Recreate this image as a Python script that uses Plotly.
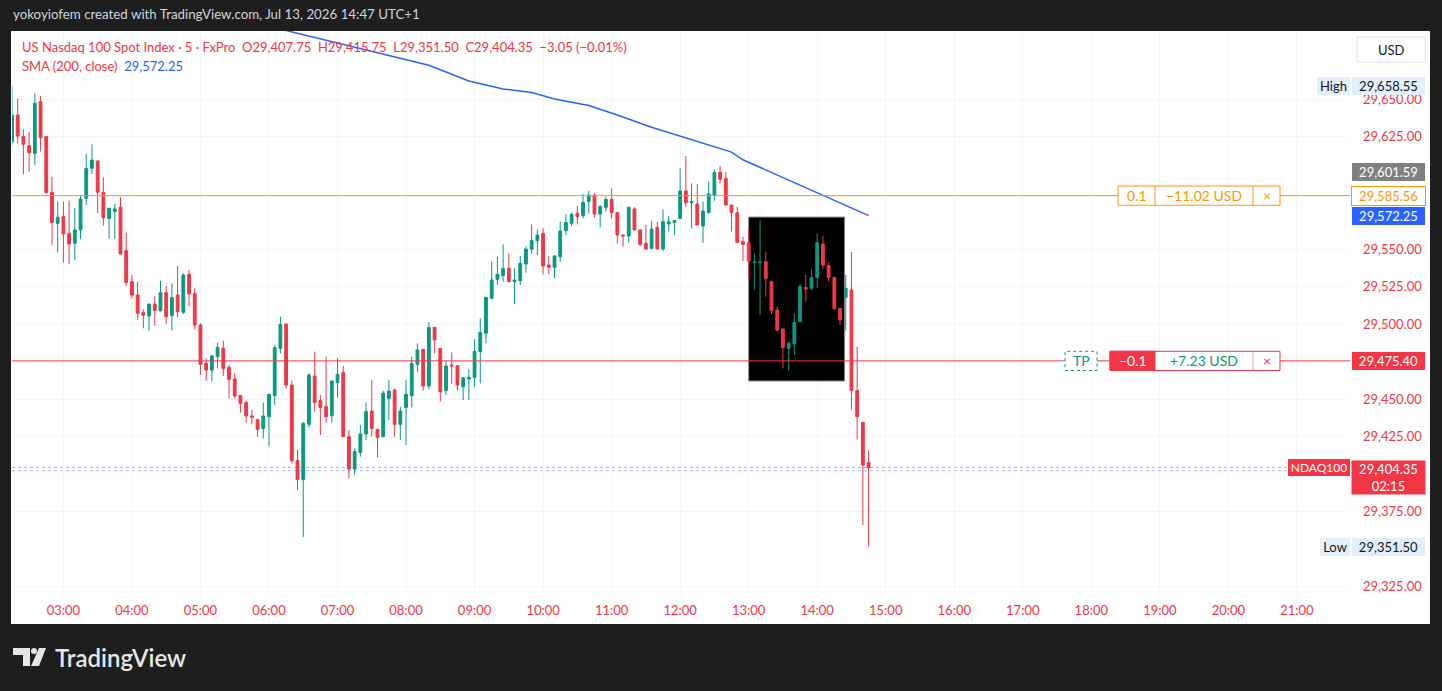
import pandas as pd
import plotly.graph_objects as go

# 5 min candles of US Nasdaq 100 (FxPro), 02:15 -> 14:45
opens = [29621.6, 29639.3, 29625.0, 29618.9, 29613.8, 29648.2, 29624.9, 29587.8, 29567.1, 29571.6,
         29560.4, 29553.8, 29562.7, 29583.8, 29603.8, 29608.7, 29587.8, 29570.4, 29574.9, 29577.8,
         29548.9, 29528.2, 29519.3, 29507.6, 29505.3, 29513.3, 29508.9, 29520.9, 29505.6, 29519.3,
         29507.8, 29533.1, 29520.4, 29499.3, 29473.8, 29469.3, 29478.2, 29483.8, 29471.1, 29463.3,
         29452.4, 29447.8, 29438.7, 29436.4, 29430.4, 29438.2, 29452.2, 29483.8, 29500.0, 29459.3,
         29408.9, 29396.4, 29433.1, 29465.3, 29448.9, 29444.9, 29438.9, 29460.9, 29467.6, 29424.9,
         29403.3, 29414.4, 29426.7, 29442.0, 29429.8, 29424.9, 29450.4, 29456.0, 29433.1, 29444.4,
         29452.2, 29473.1, 29483.1, 29458.7, 29497.8, 29483.8, 29455.6, 29472.7, 29472.2, 29458.2,
         29463.3, 29464.4, 29481.6, 29493.8, 29517.1, 29529.8, 29532.2, 29537.1, 29528.2, 29528.9,
         29540.0, 29549.8, 29555.6, 29560.4, 29539.3, 29537.8, 29544.9, 29562.2, 29567.1, 29573.8,
         29572.2, 29581.6, 29586.0, 29573.3, 29577.8, 29583.1, 29574.4, 29559.3, 29558.7, 29576.7,
         29562.7, 29553.8, 29550.4, 29564.4, 29550.0, 29566.7, 29567.6, 29570.4, 29588.7, 29580.9,
         29580.0, 29565.3, 29574.2, 29585.6, 29601.1, 29597.1, 29579.3, 29574.2, 29554.9, 29554.2,
         29541.0, 29541.0, 29541.6, 29528.2, 29509.3, 29496.7, 29483.8, 29486.7, 29501.6, 29524.4,
         29523.8, 29531.1, 29553.3, 29538.9, 29531.1, 29510.4, 29517.8, 29522.7, 29455.6, 29434.4,
         29407.75]
highs = [29658.55, 29650.4, 29629.8, 29628.2, 29653.8, 29652.0, 29625.2, 29598.2, 29581.6, 29581.6,
         29582.2, 29577.1, 29586.0, 29613.3, 29619.8, 29609.0, 29597.8, 29577.5, 29580.0, 29584.4,
         29560.9, 29532.7, 29528.2, 29509.8, 29513.5, 29518.5, 29528.9, 29525.3, 29527.1, 29538.7,
         29533.8, 29536.0, 29523.8, 29500.4, 29477.1, 29479.3, 29487.6, 29488.9, 29472.7, 29467.1,
         29452.6, 29448.9, 29442.7, 29436.6, 29447.6, 29453.3, 29485.8, 29504.9, 29500.2, 29462.2,
         29416.4, 29434.5, 29467.1, 29481.6, 29452.7, 29478.2, 29462.2, 29477.1, 29472.2, 29429.3,
         29417.1, 29432.7, 29447.8, 29462.7, 29430.0, 29455.6, 29462.7, 29456.9, 29444.9, 29462.7,
         29478.2, 29487.1, 29483.3, 29501.3, 29498.0, 29484.0, 29475.6, 29481.1, 29472.4, 29464.4,
         29470.0, 29489.8, 29503.8, 29518.0, 29541.6, 29544.9, 29553.1, 29547.1, 29537.1, 29545.3,
         29551.6, 29566.4, 29563.1, 29563.8, 29545.3, 29546.0, 29568.2, 29573.1, 29574.2, 29578.7,
         29586.7, 29588.9, 29587.1, 29579.3, 29584.9, 29590.4, 29574.6, 29559.5, 29578.0, 29577.8,
         29563.1, 29566.0, 29568.7, 29568.2, 29576.4, 29572.0, 29569.1, 29603.8, 29612.0, 29593.8,
         29593.3, 29581.6, 29594.9, 29603.1, 29605.3, 29601.1, 29579.5, 29578.2, 29558.2, 29563.8,
         29547.1, 29569.3, 29548.2, 29528.9, 29511.6, 29496.9, 29488.2, 29507.1, 29526.7, 29532.7,
         29536.7, 29560.4, 29558.7, 29541.1, 29531.3, 29510.6, 29532.7, 29548.2, 29484.9, 29434.6,
         29415.75]
lows = [29619.5, 29620.4, 29600.0, 29601.6, 29606.0, 29614.9, 29587.0, 29552.7, 29547.6, 29540.9,
        29540.0, 29542.7, 29556.5, 29579.3, 29600.0, 29573.8, 29565.6, 29556.9, 29556.9, 29546.5,
        29525.3, 29517.1, 29502.7, 29497.1, 29495.6, 29498.7, 29508.2, 29500.0, 29495.6, 29504.4,
        29506.7, 29512.0, 29496.4, 29466.0, 29462.2, 29461.6, 29470.4, 29465.3, 29450.4, 29450.4,
        29440.9, 29434.2, 29433.1, 29424.9, 29423.8, 29418.7, 29446.0, 29480.4, 29457.1, 29407.1,
        29389.3, 29358.0, 29430.9, 29441.6, 29426.0, 29434.2, 29434.2, 29450.9, 29424.7, 29397.1,
        29399.3, 29411.6, 29422.7, 29424.9, 29411.1, 29424.4, 29436.0, 29424.9, 29422.7, 29419.3,
        29444.4, 29468.2, 29455.6, 29456.4, 29480.4, 29448.2, 29452.7, 29460.0, 29455.6, 29449.3,
        29449.3, 29458.2, 29460.4, 29487.1, 29516.9, 29526.0, 29528.2, 29528.0, 29513.3, 29526.0,
        29534.2, 29546.7, 29546.0, 29533.1, 29533.3, 29530.4, 29541.6, 29559.3, 29565.3, 29566.4,
        29570.4, 29573.8, 29571.1, 29564.4, 29574.9, 29570.4, 29553.8, 29551.6, 29554.2, 29562.5,
        29551.6, 29549.8, 29550.2, 29549.8, 29548.7, 29561.6, 29559.3, 29570.2, 29578.2, 29563.8,
        29565.8, 29554.2, 29573.8, 29582.2, 29593.8, 29579.1, 29561.6, 29554.2, 29542.0, 29530.4,
        29522.7, 29506.0, 29518.2, 29506.7, 29494.9, 29470.4, 29468.9, 29479.3, 29501.1, 29514.9,
        29522.7, 29523.8, 29536.4, 29528.2, 29509.3, 29499.3, 29495.6, 29443.1, 29423.1, 29366.0,
        29351.5]
closes = [29639.3, 29625.3, 29619.8, 29614.2, 29647.1, 29624.2, 29587.6, 29567.6, 29571.1, 29560.0,
          29553.3, 29562.7, 29583.3, 29603.6, 29609.3, 29587.8, 29570.9, 29577.1, 29576.7, 29546.7,
          29527.6, 29519.3, 29507.1, 29505.8, 29513.3, 29509.0, 29520.9, 29504.9, 29517.6, 29508.2,
          29532.7, 29520.0, 29499.3, 29473.1, 29469.3, 29478.7, 29484.4, 29470.4, 29463.1, 29452.0,
          29447.1, 29438.7, 29437.8, 29429.8, 29438.7, 29453.1, 29484.2, 29499.8, 29459.3, 29408.9,
          29396.4, 29433.8, 29466.0, 29447.6, 29444.4, 29438.2, 29462.0, 29466.4, 29424.9, 29403.3,
          29414.9, 29426.7, 29441.6, 29430.4, 29424.4, 29453.8, 29455.3, 29433.1, 29442.0, 29453.1,
          29473.8, 29482.7, 29458.7, 29497.6, 29489.3, 29454.9, 29472.0, 29472.0, 29459.3, 29464.2,
          29464.2, 29481.6, 29494.4, 29517.8, 29529.3, 29533.1, 29536.9, 29528.2, 29529.3, 29540.4,
          29550.0, 29555.6, 29559.3, 29538.7, 29537.8, 29545.3, 29562.0, 29567.6, 29573.1, 29571.6,
          29581.1, 29586.0, 29573.3, 29578.2, 29583.1, 29574.2, 29559.3, 29558.7, 29577.8, 29562.7,
          29553.1, 29550.0, 29563.3, 29550.0, 29568.2, 29568.2, 29568.9, 29588.7, 29580.9, 29581.6,
          29566.0, 29575.3, 29586.7, 29600.9, 29596.4, 29579.3, 29574.4, 29554.4, 29553.1, 29542.0,
          29541.3, 29541.3, 29530.4, 29508.9, 29496.0, 29484.4, 29487.1, 29501.1, 29524.9, 29523.3,
          29530.9, 29554.2, 29539.3, 29531.1, 29510.4, 29502.7, 29523.8, 29455.6, 29438.2, 29406.0,
          29404.35]
times = pd.date_range("2026-07-13 02:15", periods=len(opens), freq="5min")

# SMA(200, close) as it crosses the pane
sma_times = ["2026-07-13 06:05", "2026-07-13 06:40", "2026-07-13 07:15", "2026-07-13 07:40",
             "2026-07-13 08:20", "2026-07-13 08:55", "2026-07-13 09:25", "2026-07-13 09:50",
             "2026-07-13 10:10", "2026-07-13 10:40", "2026-07-13 11:05", "2026-07-13 11:35",
             "2026-07-13 12:05", "2026-07-13 12:45", "2026-07-13 12:55", "2026-07-13 13:50",
             "2026-07-13 14:15", "2026-07-13 14:45"]
sma_values = [29697.5, 29691.0, 29684.2, 29679.5, 29672.5, 29662.0, 29656.7, 29654.3, 29650.0,
              29645.6, 29639.3, 29631.2, 29624.1, 29614.6, 29609.5, 29590.8, 29582.8, 29572.25]

# ticks that are not covered by the price tags
price_ticks = [29325, 29375, 29425, 29450, 29500, 29525, 29550, 29625, 29650]

position_price = 29585.56
tp_price = 29475.40
last_price = 29404.35
sma_last = 29572.25
grey_price = 29601.59
high_price = 29658.55
low_price = 29351.50

# black box drawn on the chart (13:00 -> 14:24)
box_mid = "2026-07-13 13:42"
box_minutes = 84
box_low, box_high = 29462.0, 29571.3

UP = "#089981"
DOWN = "#f23645"
ORANGE = "#ff9800"
BLUE = "#2962ff"
FONT = "Lato"

# pixel -> paper helpers (plot pane is x 12..1350, y 31..597)
L, R, T, B = 12, 1350, 31, 597
def px(x):
    return (x - L) / (R - L)
def py(y):
    return (B - y) / (B - T)

fig = go.Figure()
# bar layer sits under the candles, so the box does not hide them
fig.add_trace(go.Bar(x=[box_mid], y=[box_high - box_low], base=[box_low], width=[box_minutes * 60000],
                     marker=dict(color="black", line=dict(color="#8a8a8a", width=1)),
                     showlegend=False, hoverinfo="skip"))
fig.add_trace(go.Candlestick(
    x=times, open=opens, high=highs, low=lows, close=closes,
    increasing=dict(line=dict(color=UP, width=1), fillcolor=UP),
    decreasing=dict(line=dict(color=DOWN, width=1), fillcolor=DOWN),
    whiskerwidth=0, showlegend=False, hoverinfo="skip"))
fig.add_trace(go.Scatter(x=sma_times, y=sma_values, mode="lines",
                         line=dict(color=BLUE, width=1.5), showlegend=False, hoverinfo="skip"))

shapes = []
# white chart panel on the dark snapshot frame
shapes.append(dict(type="rect", xref="paper", yref="paper", x0=px(11), x1=px(1430), y0=py(624), y1=py(31),
                   fillcolor="white", line=dict(width=0), layer="below"))
# price lines
shapes.append(dict(type="line", xref="paper", yref="y", x0=0, x1=1, y0=position_price, y1=position_price,
                   line=dict(color=ORANGE, width=1)))
shapes.append(dict(type="line", xref="paper", yref="y", x0=0, x1=1, y0=tp_price, y1=tp_price,
                   line=dict(color=DOWN, width=1)))
shapes.append(dict(type="line", xref="paper", yref="y", x0=0, x1=1, y0=last_price, y1=last_price,
                   line=dict(color="rgba(242,54,69,0.55)", width=1, dash="dot")))
shapes.append(dict(type="line", xref="paper", yref="y", x0=0, x1=1, y0=last_price - 2.2, y1=last_price - 2.2,
                   line=dict(color="rgba(41,98,255,0.45)", width=1, dash="dot")))

half = 6.4  # half height of the order boxes, in price units
# position box: 0.1 | -11.02 USD | x
shapes.append(dict(type="rect", xref="paper", yref="y", x0=px(1118), x1=px(1280),
                   y0=position_price - half, y1=position_price + half,
                   fillcolor="white", line=dict(color=ORANGE, width=1)))
for sx in (1155, 1253):
    shapes.append(dict(type="line", xref="paper", yref="y", x0=px(sx), x1=px(sx),
                       y0=position_price - half, y1=position_price + half, line=dict(color=ORANGE, width=1)))
# TP tag + order box
shapes.append(dict(type="rect", xref="paper", yref="y", x0=px(1065), x1=px(1097),
                   y0=tp_price - half, y1=tp_price + half,
                   fillcolor="white", line=dict(color=UP, width=1, dash="dot")))
shapes.append(dict(type="rect", xref="paper", yref="y", x0=px(1110), x1=px(1280),
                   y0=tp_price - half, y1=tp_price + half,
                   fillcolor="white", line=dict(color=DOWN, width=1)))
shapes.append(dict(type="rect", xref="paper", yref="y", x0=px(1110), x1=px(1155),
                   y0=tp_price - half, y1=tp_price + half,
                   fillcolor=DOWN, line=dict(color=DOWN, width=1)))
shapes.append(dict(type="line", xref="paper", yref="y", x0=px(1253), x1=px(1253),
                   y0=tp_price - half, y1=tp_price + half, line=dict(color="#f5a5ac", width=1)))
# USD button
shapes.append(dict(type="rect", xref="paper", yref="paper", x0=px(1357), x1=px(1425), y0=py(62), y1=py(37),
                   fillcolor="white", line=dict(color="#e0e3eb", width=1)))
# TradingView logo mark
logo = "#e6e6e6"
shapes.append(dict(type="rect", xref="paper", yref="paper", x0=px(13), x1=px(30), y0=py(655), y1=py(648),
                   fillcolor=logo, line=dict(width=0)))
shapes.append(dict(type="rect", xref="paper", yref="paper", x0=px(23), x1=px(30), y0=py(666), y1=py(648),
                   fillcolor=logo, line=dict(width=0)))
shapes.append(dict(type="circle", xref="paper", yref="paper", x0=px(31), x1=px(37), y0=py(654), y1=py(648),
                   fillcolor=logo, line=dict(width=0)))
shapes.append(dict(type="path", xref="paper", yref="paper",
                   path=f"M {px(39)} {py(648)} L {px(46)} {py(648)} L {px(39)} {py(666)} L {px(31)} {py(666)} Z",
                   fillcolor=logo, line=dict(width=0)))

ann = []
def tag(text, x0, x1, y, fill, color, yref="y", border=None, h=18, size=13):
    ann.append(dict(text=text, xref="paper", yref=yref, x=px((x0 + x1) / 2), y=y,
                    xanchor="center", yanchor="middle", showarrow=False,
                    width=x1 - x0, height=h, bgcolor=fill, borderpad=0,
                    bordercolor=border or fill, borderwidth=1 if border else 0,
                    font=dict(family=FONT, size=size, color=color)))

# price axis tags
tag("High", 1317, 1350, high_price, "#e3effd", "#131722")
tag("29,658.55", 1352, 1425, high_price, "#e3effd", "#131722")
tag("29,601.59", 1352, 1425, grey_price, "#808080", "white")
tag("29,585.56", 1352, 1425, position_price, "white", ORANGE, border=ORANGE)
tag("29,572.25", 1352, 1425, sma_last, BLUE, "white")
tag("29,475.40", 1352, 1425, tp_price, DOWN, "white")
tag("NDAQ100", 1288, 1350, last_price, DOWN, "white", h=17, size=12)
ann.append(dict(text="29,404.35<br>02:15", xref="paper", yref="paper", x=px(1388.5), y=py(460),
                xanchor="center", yanchor="top", showarrow=False, width=73, height=33,
                bgcolor=DOWN, borderpad=0, align="center",
                font=dict(family=FONT, size=13, color="white")))
tag("Low", 1320, 1350, low_price, "#e3effd", "#131722")
tag("29,351.50", 1352, 1425, low_price, "#e3effd", "#131722")
ann.append(dict(text="USD", xref="paper", yref="paper", x=px(1391), y=py(49.5), xanchor="center",
                yanchor="middle", showarrow=False, font=dict(family=FONT, size=13, color="#131722")))

# order box texts
for txt, x0, x1, col in (("0.1", 1118, 1155, ORANGE), ("\u221211.02 USD", 1155, 1253, ORANGE),
                         ("\u00d7", 1253, 1280, ORANGE)):
    ann.append(dict(text=txt, xref="paper", yref="y", x=px((x0 + x1) / 2), y=position_price,
                    xanchor="center", yanchor="middle", showarrow=False,
                    font=dict(family=FONT, size=14, color=col)))
for txt, x0, x1, col in (("TP", 1065, 1097, UP), ("\u22120.1", 1110, 1155, "white"),
                         ("+7.23 USD", 1155, 1253, UP), ("\u00d7", 1253, 1280, DOWN)):
    ann.append(dict(text=txt, xref="paper", yref="y", x=px((x0 + x1) / 2), y=tp_price,
                    xanchor="center", yanchor="middle", showarrow=False,
                    font=dict(family=FONT, size=14, color=col)))

# legend lines
ann.append(dict(text="US Nasdaq 100 Spot Index \u00b7 5 \u00b7 FxPro  O29,407.75  H29,415.75  L29,351.50  "
                     "C29,404.35  \u22123.05 (\u22120.01%)",
                xref="paper", yref="paper", x=px(20), y=py(47), xanchor="left", yanchor="middle",
                showarrow=False, font=dict(family=FONT, size=13, color=DOWN)))
ann.append(dict(text=f"SMA (200, close)  <span style='color:{BLUE}'>29,572.25</span>",
                xref="paper", yref="paper", x=px(20), y=py(66), xanchor="left", yanchor="middle",
                showarrow=False, font=dict(family=FONT, size=13, color=DOWN)))
# snapshot frame texts
ann.append(dict(text="yokoyiofem created with TradingView.com, Jul 13, 2026 14:47 UTC+1",
                xref="paper", yref="paper", x=px(11), y=py(14), xanchor="left", yanchor="middle",
                showarrow=False, font=dict(family=FONT, size=13.3, color="#d1d4dc")))
ann.append(dict(text="TradingView", xref="paper", yref="paper", x=px(53), y=py(657),
                xanchor="left", yanchor="middle", showarrow=False,
                font=dict(family=FONT, size=24, color=logo, weight=600)))

fig.update_layout(
    width=1442, height=691,
    margin=dict(l=L, r=1442 - R, t=T, b=691 - B),
    paper_bgcolor="#1e1e1e", plot_bgcolor="white",
    shapes=shapes, annotations=ann,
    font=dict(family=FONT),
    xaxis=dict(type="date", range=["2026-07-13 02:15", "2026-07-13 21:46:30"],
               rangeslider=dict(visible=False), tickformat="%H:%M",
               tick0="2026-07-13 00:00", dtick=3600000,
               tickfont=dict(family=FONT, size=13, color=DOWN),
               showgrid=True, gridcolor="#f5f6f8", zeroline=False, showline=False,
               ticklabelstandoff=4),
    yaxis=dict(side="right", range=[29318, 29695.33], tickvals=price_ticks,
               ticktext=[f"{v:,.2f}" for v in price_ticks],
               tickfont=dict(family=FONT, size=13, color=DOWN),
               showgrid=True, gridcolor="#f5f6f8", zeroline=False, showline=False,
               ticklabelstandoff=12),
)

# the page is photographed edge to edge, so drop the default body margin and the mode bar
fig.write_html("out.html", config={"displayModeBar": False},
               post_script="document.body.style.margin='0';document.body.style.background='#1e1e1e';")
